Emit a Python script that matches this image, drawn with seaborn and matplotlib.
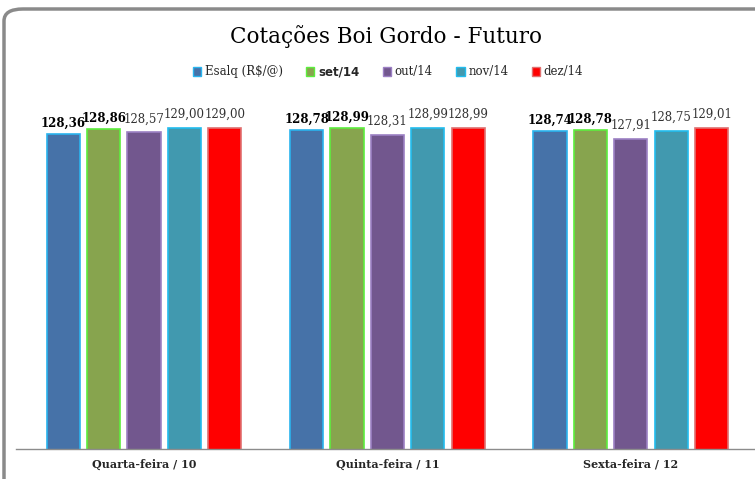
import matplotlib
matplotlib.use("Agg")
import matplotlib.pyplot as plt
import seaborn as sns
import pandas as pd
from matplotlib.patches import Patch, FancyBboxPatch

categories = ["Quarta-feira / 10", "Quinta-feira / 11", "Sexta-feira / 12"]
series = ["Esalq (R$/@)", "set/14", "out/14", "nov/14", "dez/14"]
esalq = [128.36, 128.78, 128.74]
set14 = [128.86, 128.99, 128.78]
out14 = [128.57, 128.31, 127.91]
nov14 = [129.00, 128.99, 128.75]
dez14 = [129.00, 128.99, 129.01]

face_colors = ["#4672A8", "#87A44E", "#72578E", "#4199AF", "#FF0000"]
edge_colors = ["#2AB4EE", "#5CEE3E", "#9C80C4", "#22BCEE", "#E07070"]
bold_series = {"Esalq (R$/@)", "set/14"}

values = [esalq, set14, out14, nov14, dez14]
rows = []
for s, vals in zip(series, values):
    for c, v in zip(categories, vals):
        rows.append({"cat": c, "series": s, "value": v})
df = pd.DataFrame(rows)

sns.set_style("white")
plt.rcParams["font.family"] = ["DejaVu Serif", "DejaVu Sans"]

fig = plt.figure(figsize=(7.55, 4.79), dpi=100)
W, H = 755, 479
ax = fig.add_axes([16 / W, 30 / H, (755 - 16) / W, (449 - 95) / H])

sns.barplot(data=df, x="cat", y="value", hue="series", order=categories,
            hue_order=series, palette=face_colors, width=0.83, gap=0.18,
            saturation=1, legend=False, ax=ax, errorbar=None)

for cont, ec, s in zip(ax.containers, edge_colors, series):
    for bar in cont:
        bar.set_edgecolor(ec)
        bar.set_linewidth(1.2)
    labels = [f"{b.get_height():.2f}".replace(".", ",") for b in cont]
    if s in bold_series:
        ax.bar_label(cont, labels=labels, padding=3, fontsize=8.5,
                     fontweight="bold", color="black")
    else:
        ax.bar_label(cont, labels=labels, padding=5, fontsize=8.5,
                     color="#333333")

ax.set_ylim(96.9, 132.3)
ax.set_xlim(-0.526, 2.51)
ax.set_xlabel("")
ax.set_ylabel("")
ax.set_yticks([])
ax.tick_params(axis="x", length=0, pad=7)
for lbl in ax.get_xticklabels():
    lbl.set_fontweight("bold")
    lbl.set_fontsize(8)
for sp in ["top", "left", "right"]:
    ax.spines[sp].set_visible(False)
ax.spines["bottom"].set_color("#8C8C8C")
ax.spines["bottom"].set_linewidth(1.0)

fig.text(386 / W, 1 - 37 / H, "Cotações Boi Gordo - Futuro", ha="center",
         va="center", fontsize=15.5, color="black")

handles = [Patch(facecolor=fc, edgecolor=ec, linewidth=1.0)
           for fc, ec in zip(face_colors, edge_colors)]
leg = fig.legend(handles, series, loc="center", ncol=5,
                 bbox_to_anchor=(388 / W, 1 - 72 / H), frameon=False,
                 handlelength=0.7, handleheight=0.7, handletextpad=0.3,
                 columnspacing=2.0, fontsize=8.5)
for t in leg.get_texts():
    if t.get_text() == "set/14":
        t.set_fontweight("bold")
        t.set_fontfamily(["DejaVu Sans"])

frame = FancyBboxPatch((4 / W, -20 / H), (W + 20) / W, (H - 9 + 20) / H,
                       boxstyle="round,pad=0,rounding_size=0.025",
                       transform=fig.transFigure, facecolor="none",
                       edgecolor="#8A8A8A", linewidth=2.5, clip_on=False)
fig.patches.append(frame)

fig.savefig("out.png", dpi=100)
